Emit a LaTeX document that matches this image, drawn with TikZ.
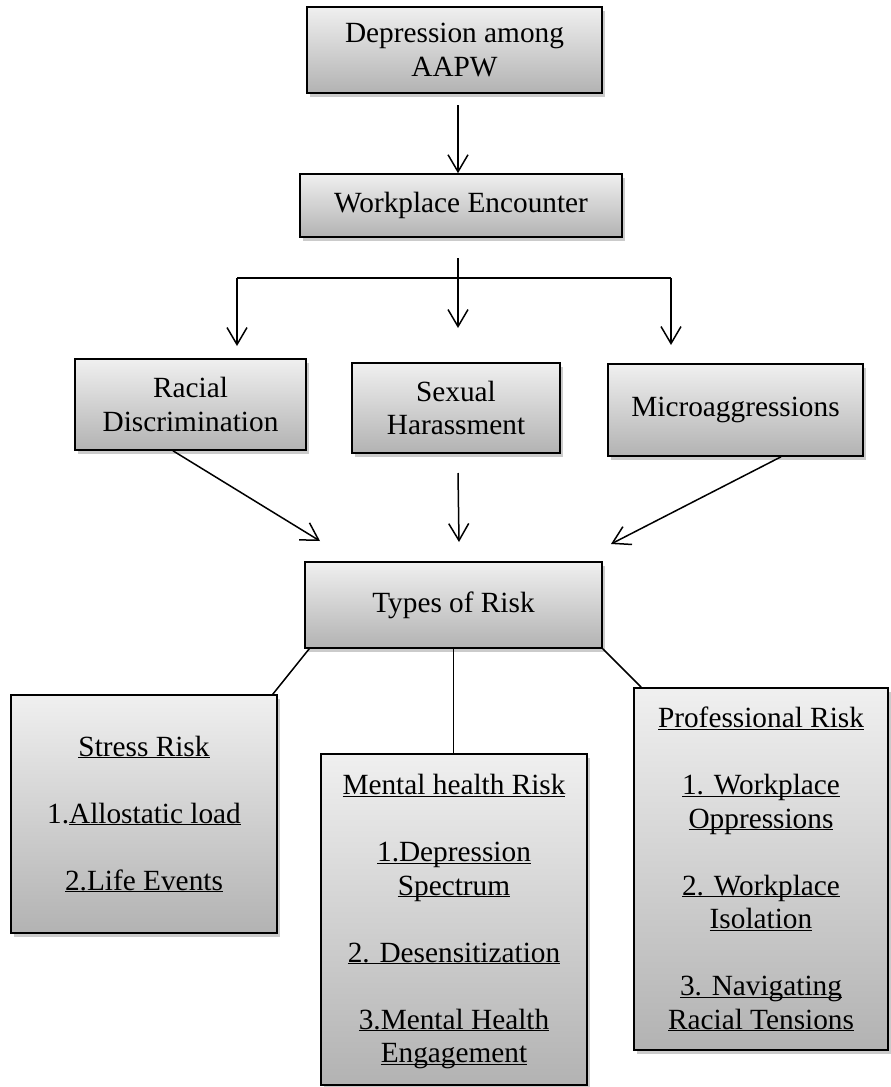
\documentclass[tikz,border=0pt]{standalone}
\usepackage{fontspec}
\setmainfont{Liberation Serif}
\usetikzlibrary{arrows.meta,shadows}
\newcommand{\uln}[1]{\underline{\raisebox{0pt}[\height][0pt]{#1}}}
\tikzset{
  box/.style={draw=black, line width=1.6pt, top color=black!6, bottom color=black!30,
    drop shadow={shadow xshift=3pt, shadow yshift=-4pt, fill=black!45, opacity=0.45},
    align=center, inner sep=0pt, font=\fontsize{29.3}{33.5}\selectfont},
  arr/.style={-{Straight Barb[length=17pt,width=20pt,line width=1.5pt]}, line width=1.5pt},
  ln/.style={line width=1.5pt}
}
\begin{document}
\begin{tikzpicture}[x=1pt,y=-1pt]
\useasboundingbox (0,0) rectangle (891,1087);
% boxes
\node[box, minimum width=295pt, minimum height=86pt] (dep) at (454.5,50) {Depression among\\AAPW};
\node[box, minimum width=322pt, minimum height=63pt] (wp) at (461,205.5) {Workplace Encounter};
\node[box, minimum width=231pt, minimum height=91pt] (racial) at (190.5,404.5) {Racial\\Discrimination};
\node[box, minimum width=208pt, minimum height=90pt] (sexual) at (456,408) {Sexual\\Harassment};
\node[box, minimum width=255pt, minimum height=92pt] (micro) at (735.5,410) {Microaggressions};
\node[box, minimum width=297pt, minimum height=86pt] (types) at (453.5,605) {Types of Risk};
\node[box, minimum width=266pt, minimum height=238pt] (stress) at (144,814)
  {\uln{Stress Risk}\\[33.5pt]1.\uln{Allostatic load}\\[33.5pt]\uln{2.Life Events}};
\node[box, minimum width=266pt, minimum height=331pt] (mental) at (454,919.5)
  {\uln{Mental health Risk}\\[33.5pt]\uln{1.Depression}\\\uln{Spectrum}\\[33.5pt]\uln{2. Desensitization}\\[33.5pt]\uln{3.Mental Health}\\\uln{Engagement}};
\node[box, minimum width=254pt, minimum height=362pt] (prof) at (761,869)
  {\uln{Professional Risk}\\[33.5pt]\uln{1. Workplace}\\\uln{Oppressions}\\[33.5pt]\uln{2. Workplace}\\\uln{Isolation}\\[33.5pt]\uln{3. Navigating}\\\uln{Racial Tensions}};
% connectors
\coordinate (a1s) at (458,105);
\draw[arr] (a1s) -- (a1s |- wp.north);
\coordinate (a2s) at (458,258);
\coordinate (a2e) at (458,328);
\draw[arr] (a2s) -- (a2e);
\coordinate (bl) at (237,278);
\coordinate (br) at (671,278);
\coordinate (ble) at (237,346);
\coordinate (bre) at (671,345);
\draw[ln] (bl) -- (br);
\draw[arr] (bl) -- (ble);
\draw[arr] (br) -- (bre);
\coordinate (t1) at (320,541);
\draw[arr] ([xshift=-17.5pt]racial.south) -- (t1);
\coordinate (s1) at (458,473);
\coordinate (t2) at (459,542);
\draw[arr] (s1) -- (t2);
\coordinate (t3) at (611,544);
\draw[arr] ([xshift=45.5pt]micro.south) -- (t3);
\draw[ln] ([xshift=5pt]types.south west) -- ([xshift=-5pt]stress.north east);
\draw[ln] (types.south) -- (types.south |- mental.north);
\draw[ln] (types.south east) -- ([xshift=8pt]prof.north west);
\end{tikzpicture}
\end{document}
